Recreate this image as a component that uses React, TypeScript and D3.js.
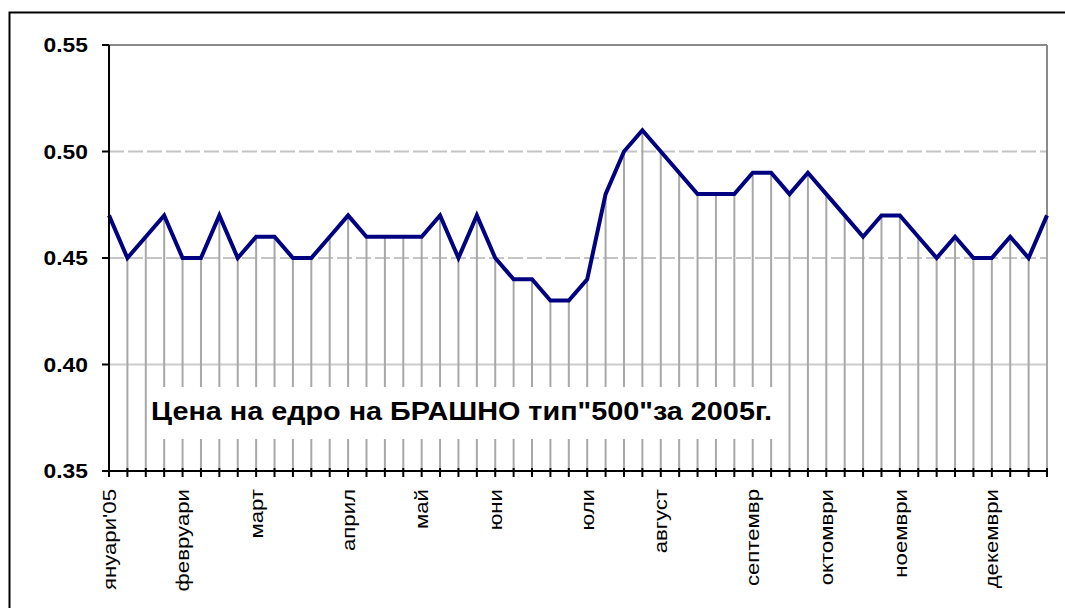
import React from "react";
import * as d3 from "d3";

const prices: number[] = [
  0.47, 0.45, 0.46, 0.47, 0.45, 0.45, 0.47, 0.45, 0.46, 0.46,
  0.45, 0.45, 0.46, 0.47, 0.46, 0.46, 0.46, 0.46, 0.47, 0.45,
  0.47, 0.45, 0.44, 0.44, 0.43, 0.43, 0.44, 0.48, 0.50, 0.51,
  0.50, 0.49, 0.48, 0.48, 0.48, 0.49, 0.49, 0.48, 0.49, 0.48,
  0.47, 0.46, 0.47, 0.47, 0.46, 0.45, 0.46, 0.45, 0.45, 0.46,
  0.45, 0.47,
];

const monthLabels: string[] = [
  "януари'05", "февруари", "март", "април", "май", "юни",
  "юли", "август", "септемвр", "октомври", "ноември", "декември",
];
const monthWeekIndex: number[] = [0, 4, 8, 13, 17, 21, 26, 30, 35, 39, 43, 48];

const yTicks: number[] = [0.35, 0.4, 0.45, 0.5, 0.55];
const dashedGridTicks: number[] = [0.45, 0.5];
const solidGridTicks: number[] = [0.4];

const title = 'Цена на едро на БРАШНО тип"500"за 2005г.';

export default function App() {
  const W = 1065;
  const H = 608;
  const left = 109;
  const right = 1047;
  const top = 45;
  const bottom = 471;

  const weeks = d3.range(prices.length);
  const x = d3.scalePoint<number>().domain(weeks).range([left, right]);
  const y = d3.scaleLinear().domain([0.35, 0.55]).range([bottom, top]);
  const line = d3
    .line<number>()
    .x((_, i) => x(i) as number)
    .y((d) => y(d));

  const font = "'Liberation Sans', Arial, sans-serif";

  return (
    <svg
      width={W}
      height={H}
      style={{ position: "absolute", left: 0, top: 0, background: "#fff" }}
    >
      <rect x={0} y={0} width={W} height={H} fill="#fff" />
      {/* outer chart border */}
      <rect x={9.5} y={12.5} width={1200} height={800} fill="#fff" stroke="#000" strokeWidth={2} />

      {/* gridlines */}
      {dashedGridTicks.map((t) => (
        <line
          key={"g" + t}
          x1={left}
          x2={right}
          y1={y(t)}
          y2={y(t)}
          stroke="#c4c4c4"
          strokeWidth={2}
          strokeDasharray="15,4"
        />
      ))}
      {solidGridTicks.map((t) => (
        <line
          key={"gs" + t}
          x1={left}
          x2={right}
          y1={y(t)}
          y2={y(t)}
          stroke="#cccccc"
          strokeWidth={2}
        />
      ))}

      {/* plot border top/right */}
      <line x1={left} x2={right} y1={top} y2={top} stroke="#8a8a8a" strokeWidth={2} />
      <line x1={right} x2={right} y1={top} y2={bottom} stroke="#8a8a8a" strokeWidth={2} />

      {/* drop lines */}
      {prices.map((p, i) => (
        <line
          key={"d" + i}
          x1={x(i)}
          x2={x(i)}
          y1={y(p)}
          y2={bottom}
          stroke="#a8a8a8"
          strokeWidth={2}
        />
      ))}

      {/* title box */}
      <rect x={149} y={387} width={634} height={52} fill="#fff" />
      <text
        x={151}
        y={420}
        fontFamily={font}
        fontWeight="bold"
        fontSize={26}
        textLength={621}
        lengthAdjust="spacingAndGlyphs"
        fill="#000"
      >
        {title}
      </text>

      {/* data line */}
      <path
        d={line(prices) || ""}
        fill="none"
        stroke="#000080"
        strokeWidth={4}
        strokeLinejoin="miter"
      />

      {/* axes */}
      <line x1={left} x2={left} y1={top} y2={bottom} stroke="#000" strokeWidth={2} />
      <line x1={left} x2={right} y1={bottom} y2={bottom} stroke="#000" strokeWidth={2} />
      {yTicks.map((t) => (
        <g key={"yt" + t}>
          <line x1={left - 7} x2={left} y1={y(t)} y2={y(t)} stroke="#000" strokeWidth={2} />
          <g transform={`translate(88, ${y(t)}) scale(1.17, 1)`}>
            <text
              textAnchor="end"
              dy="0.36em"
              fontFamily={font}
              fontWeight="bold"
              fontSize={19.5}
              fill="#000"
            >
              {t.toFixed(2)}
            </text>
          </g>
        </g>
      ))}
      {weeks.map((i) => (
        <line
          key={"xt" + i}
          x1={x(i)}
          x2={x(i)}
          y1={bottom - 3}
          y2={bottom + 6}
          stroke="#000"
          strokeWidth={2}
        />
      ))}
      {monthLabels.map((m, k) => (
        <g
          key={"xl" + k}
          transform={`translate(${x(monthWeekIndex[k])}, 489) rotate(-90) scale(1.2, 1)`}
        >
          <text
            textAnchor="end"
            dy="0.36em"
            fontFamily={font}
            fontSize={18.5}
            fill="#000"
          >
            {m}
          </text>
        </g>
      ))}
    </svg>
  );
}
